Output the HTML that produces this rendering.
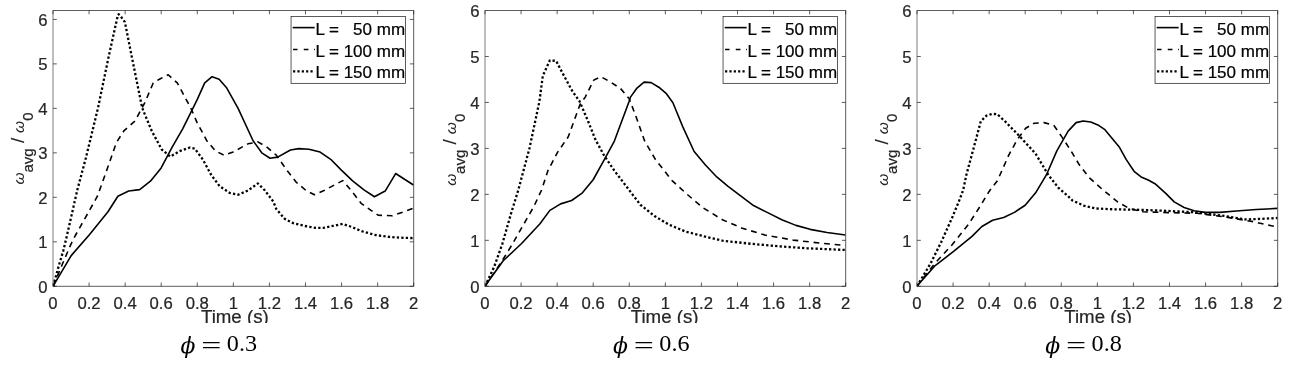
<!DOCTYPE html>
<html lang="en"><head><meta charset="utf-8"><title>Figure</title>
<style>
html,body{margin:0;padding:0;background:#fff;}
svg{display:block;}
.tk{font-family:"Liberation Sans",Arial,Helvetica,sans-serif;font-size:16.7px;fill:#262626;stroke:#262626;stroke-width:0.22;}
.lb{font-family:"Liberation Sans",Arial,Helvetica,sans-serif;font-size:18.7px;fill:#262626;stroke:#262626;stroke-width:0.22;}
.lg{font-family:"Liberation Sans",Arial,Helvetica,sans-serif;font-size:17px;fill:#000;stroke:#000;stroke-width:0.22;white-space:pre;}
.cap{font-family:"Liberation Serif","DejaVu Serif",serif;font-size:20px;fill:#000;}
.ax{stroke:#262626;stroke-width:0.75;fill:none;}
.c{fill:none;stroke:#000;stroke-linejoin:round;}
</style></head><body>
<svg width="1294" height="366" viewBox="0 0 1294 366">
<rect width="1294" height="366" fill="#fff"/>
<defs><clipPath id="xl"><rect x="0" y="0" width="1294" height="322.9"/></clipPath>
<clipPath id="cp0"><rect x="53.0" y="10.5" width="360.7" height="275.8"/></clipPath>
<clipPath id="cp1"><rect x="485.0" y="10.5" width="360.7" height="275.8"/></clipPath>
<clipPath id="cp2"><rect x="917.0" y="10.5" width="360.7" height="275.8"/></clipPath>
</defs>
<g>
<g clip-path="url(#cp0)">
<path class="c" stroke-width="1.6" d="M53.11,286.19 L71.21,255.64 L89.60,234.43 L107.98,211.80 L117.88,196.24 L128.63,191.08 L139.66,189.66 L150.41,181.18 L161.16,167.88 L171.62,148.08 L182.94,128.28 L197.08,99.92 L204.72,82.95 L212.07,76.73 L219.14,79.28 L226.78,88.05 L238.09,108.41 L253.08,140.73 L262.13,153.17 L270.05,158.27 L277.69,157.13 L290.42,150.06 L298.90,148.65 L308.80,149.22 L320.12,152.04 L331.43,159.96 L341.33,170.15 L352.64,180.89 L363.96,189.94 L374.42,196.73 L385.17,191.08 L395.64,173.54 L413.46,185.00"/>
<path class="c" stroke-width="1.6" stroke-dasharray="5.8 4.8" d="M53.20,286.20 L61.80,265.50 L66.20,255.20 L70.65,244.85 L75.07,236.00 L97.40,196.20 L106.57,170.71 L116.47,142.43 L124.11,130.55 L134.85,121.21 L144.75,102.83 L153.24,82.95 L160.31,78.71 L168.23,74.75 L177.28,82.95 L190.57,107.56 L197.08,122.63 L206.98,141.01 L215.46,150.91 L223.95,155.15 L232.44,152.33 L247.99,143.84 L257.89,141.86 L266.38,146.67 L276.28,155.15 L286.18,169.30 L296.08,182.03 L305.98,190.51 L314.46,194.75 L322.95,191.08 L342.75,180.61 L351.23,190.51 L361.13,203.31 L371.03,210.38 L378.10,215.19 L392.24,215.76 L403.56,211.80 L413.46,208.12"/>
<path class="c" stroke-width="2.3" stroke-dasharray="2.3 2.2" d="M53.20,286.20 L58.85,265.50 L63.30,250.75 L66.50,237.50 L77.30,190.00 L85.90,157.80 L98.00,108.00 L108.40,57.80 L117.90,15.00 L118.60,14.20 L120.60,16.20 L124.90,22.10 L132.00,57.80 L142.10,107.60 L144.75,114.14 L151.82,131.11 L161.72,149.50 L170.21,156.57 L180.11,150.91 L190.01,147.52 L194.82,148.65 L202.74,159.40 L211.22,174.95 L219.71,186.27 L229.61,192.77 L238.09,194.75 L247.99,190.51 L257.89,183.44 L264.96,190.51 L273.45,201.82 L276.28,208.97 L284.76,218.87 L293.25,223.11 L304.56,225.94 L315.87,227.92 L322.95,227.92 L332.85,225.94 L342.75,223.96 L351.23,226.79 L361.13,231.03 L375.27,234.99 L389.41,236.97 L403.56,237.82 L413.46,238.10"/>
</g>
<path class="ax" d="M53.0,10.5H413.70V286.3H53.0"/>
<path class="ax" stroke-width="0.6" d="M53.0,10.13V286.67" style="stroke-width:0.6"/>
<path class="ax" d="M53.00,286.3v-3.8M53.00,10.5v3.8M89.07,286.3v-3.8M89.07,10.5v3.8M125.14,286.3v-3.8M125.14,10.5v3.8M161.21,286.3v-3.8M161.21,10.5v3.8M197.28,286.3v-3.8M197.28,10.5v3.8M233.35,286.3v-3.8M233.35,10.5v3.8M269.42,286.3v-3.8M269.42,10.5v3.8M305.49,286.3v-3.8M305.49,10.5v3.8M341.56,286.3v-3.8M341.56,10.5v3.8M377.63,286.3v-3.8M377.63,10.5v3.8M413.70,286.3v-3.8M413.70,10.5v3.8M53.0,286.30h3.8M413.7,286.30h-3.8M53.0,241.82h3.8M413.7,241.82h-3.8M53.0,197.33h3.8M413.7,197.33h-3.8M53.0,152.85h3.8M413.7,152.85h-3.8M53.0,108.36h3.8M413.7,108.36h-3.8M53.0,63.88h3.8M413.7,63.88h-3.8M53.0,19.40h3.8M413.7,19.40h-3.8"/>
<text class="tk" x="53.00" y="308.6" text-anchor="middle">0</text>
<text class="tk" x="89.07" y="308.6" text-anchor="middle">0.2</text>
<text class="tk" x="125.14" y="308.6" text-anchor="middle">0.4</text>
<text class="tk" x="161.21" y="308.6" text-anchor="middle">0.6</text>
<text class="tk" x="197.28" y="308.6" text-anchor="middle">0.8</text>
<text class="tk" x="233.35" y="308.6" text-anchor="middle">1</text>
<text class="tk" x="269.42" y="308.6" text-anchor="middle">1.2</text>
<text class="tk" x="305.49" y="308.6" text-anchor="middle">1.4</text>
<text class="tk" x="341.56" y="308.6" text-anchor="middle">1.6</text>
<text class="tk" x="377.63" y="308.6" text-anchor="middle">1.8</text>
<text class="tk" x="413.70" y="308.6" text-anchor="middle">2</text>
<text class="tk" x="47.60" y="292.90" text-anchor="end">0</text>
<text class="tk" x="47.60" y="248.42" text-anchor="end">1</text>
<text class="tk" x="47.60" y="203.93" text-anchor="end">2</text>
<text class="tk" x="47.60" y="159.45" text-anchor="end">3</text>
<text class="tk" x="47.60" y="114.96" text-anchor="end">4</text>
<text class="tk" x="47.60" y="70.48" text-anchor="end">5</text>
<text class="tk" x="47.60" y="26.00" text-anchor="end">6</text>
<text class="lb" x="234.85" y="322.8" text-anchor="middle" clip-path="url(#xl)">Time (s)</text>
<g transform="translate(24.20,185) rotate(-90)" class="lb"><text x="0.6" y="0" font-style="italic" style="font-size:15.5px;stroke-width:0.05">ω</text><text x="12.5" y="8.6" style="font-size:15px">avg</text><text x="42.0" y="0">/</text><text x="52.1" y="0" font-style="italic" style="font-size:15.5px;stroke-width:0.05">ω</text><text x="64.3" y="8.6" style="font-size:15px">0</text></g>
<rect x="291.05" y="16.45" width="114.4" height="66.9" fill="#fff" stroke="#262626" stroke-width="0.75"/>
<path class="c" stroke-width="1.6" d="M292.65,27.6H314.65"/>
<path class="c" stroke-width="1.6" d="M293.05,49.5h4.5m6.2,0h4.7m5.6,0h0.8"/>
<path class="c" stroke-width="2.3" stroke-dasharray="2.2 2.15" d="M293.05,71.4H314.65"/>
<text class="lg" x="315.45" y="34.60" xml:space="preserve">L =   50 mm</text>
<text class="lg" x="315.45" y="56.60" xml:space="preserve">L = 100 mm</text>
<text class="lg" x="315.45" y="77.80" xml:space="preserve">L = 150 mm</text>
<text class="cap" font-family="DejaVu Serif" font-style="italic" style="font-family:'DejaVu Serif',serif;font-size:21.9px" x="180.50" y="352.6">ϕ</text>
<text class="cap" transform="translate(201.20,354.0) scale(1.428,1)" style="font-size:25px">=</text>
<text class="cap" transform="translate(226.80,350.95) scale(1.008,1)" style="font-size:24px">0.3</text>
</g>
<g>
<g clip-path="url(#cp1)">
<path class="c" stroke-width="1.6" d="M484.83,286.19 L503.21,260.73 L521.60,243.48 L539.98,223.68 L549.88,210.38 L560.63,203.88 L571.66,200.49 L582.41,192.85 L593.16,179.76 L603.62,160.81 L614.37,141.01 L629.08,101.41 L630.49,97.10 L637.00,88.05 L644.07,82.11 L651.14,82.67 L658.78,87.20 L666.42,93.70 L672.92,102.75 L682.82,126.87 L694.13,151.48 L705.45,165.05 L716.76,176.93 L728.08,186.27 L753.53,205.58 L767.67,212.65 L781.82,219.72 L795.96,225.38 L810.10,229.34 L827.07,232.45 L845.46,234.99"/>
<path class="c" stroke-width="1.6" stroke-dasharray="5.8 4.8" d="M485.10,286.20 L501.10,262.40 L512.10,244.60 L523.00,225.50 L533.90,206.40 L541.60,190.00 L547.90,170.71 L557.52,152.33 L568.27,136.77 L580.15,104.24 L585.24,97.10 L593.72,80.13 L600.80,76.73 L610.69,82.11 L620.59,88.61 L629.08,98.51 L636.15,116.97 L644.64,141.01 L655.38,159.40 L672.07,180.61 L687.06,194.26 L702.62,207.56 L722.42,219.72 L742.22,228.20 L764.85,234.99 L793.13,240.08 L821.41,243.20 L845.46,245.46"/>
<path class="c" stroke-width="2.3" stroke-dasharray="2.3 2.2" d="M485.10,286.20 L494.30,266.50 L502.50,243.30 L510.70,214.60 L518.30,190.00 L529.52,148.08 L539.42,101.41 L542.81,75.88 L549.88,60.33 L556.11,60.89 L564.03,75.88 L572.51,91.44 L579.58,101.34 L588.07,121.21 L595.42,139.60 L603.91,155.15 L614.37,170.71 L626.25,186.27 L640.39,204.73 L654.54,216.04 L668.68,224.53 L685.65,231.60 L705.45,236.69 L722.42,240.65 L750.70,243.76 L778.99,246.31 L807.27,248.29 L845.46,249.98"/>
</g>
<path class="ax" d="M485.0,10.5H845.70V286.3H485.0"/>
<path class="ax" stroke-width="0.6" d="M485.0,10.13V286.67" style="stroke-width:0.6"/>
<path class="ax" d="M485.00,286.3v-3.8M485.00,10.5v3.8M521.07,286.3v-3.8M521.07,10.5v3.8M557.14,286.3v-3.8M557.14,10.5v3.8M593.21,286.3v-3.8M593.21,10.5v3.8M629.28,286.3v-3.8M629.28,10.5v3.8M665.35,286.3v-3.8M665.35,10.5v3.8M701.42,286.3v-3.8M701.42,10.5v3.8M737.49,286.3v-3.8M737.49,10.5v3.8M773.56,286.3v-3.8M773.56,10.5v3.8M809.63,286.3v-3.8M809.63,10.5v3.8M845.70,286.3v-3.8M845.70,10.5v3.8M485.0,286.30h3.8M845.7,286.30h-3.8M485.0,240.33h3.8M845.7,240.33h-3.8M485.0,194.37h3.8M845.7,194.37h-3.8M485.0,148.40h3.8M845.7,148.40h-3.8M485.0,102.43h3.8M845.7,102.43h-3.8M485.0,56.47h3.8M845.7,56.47h-3.8"/>
<text class="tk" x="485.00" y="308.6" text-anchor="middle">0</text>
<text class="tk" x="521.07" y="308.6" text-anchor="middle">0.2</text>
<text class="tk" x="557.14" y="308.6" text-anchor="middle">0.4</text>
<text class="tk" x="593.21" y="308.6" text-anchor="middle">0.6</text>
<text class="tk" x="629.28" y="308.6" text-anchor="middle">0.8</text>
<text class="tk" x="665.35" y="308.6" text-anchor="middle">1</text>
<text class="tk" x="701.42" y="308.6" text-anchor="middle">1.2</text>
<text class="tk" x="737.49" y="308.6" text-anchor="middle">1.4</text>
<text class="tk" x="773.56" y="308.6" text-anchor="middle">1.6</text>
<text class="tk" x="809.63" y="308.6" text-anchor="middle">1.8</text>
<text class="tk" x="845.70" y="308.6" text-anchor="middle">2</text>
<text class="tk" x="479.60" y="292.90" text-anchor="end">0</text>
<text class="tk" x="479.60" y="246.93" text-anchor="end">1</text>
<text class="tk" x="479.60" y="200.97" text-anchor="end">2</text>
<text class="tk" x="479.60" y="155.00" text-anchor="end">3</text>
<text class="tk" x="479.60" y="109.03" text-anchor="end">4</text>
<text class="tk" x="479.60" y="63.07" text-anchor="end">5</text>
<text class="tk" x="479.60" y="17.10" text-anchor="end">6</text>
<text class="lb" x="664.65" y="322.8" text-anchor="middle" clip-path="url(#xl)">Time (s)</text>
<g transform="translate(456.20,186.4) rotate(-90)" class="lb"><text x="0.6" y="0" font-style="italic" style="font-size:15.5px;stroke-width:0.05">ω</text><text x="12.5" y="8.6" style="font-size:15px">avg</text><text x="42.0" y="0">/</text><text x="52.1" y="0" font-style="italic" style="font-size:15.5px;stroke-width:0.05">ω</text><text x="64.3" y="8.6" style="font-size:15px">0</text></g>
<rect x="723.05" y="16.45" width="114.4" height="66.9" fill="#fff" stroke="#262626" stroke-width="0.75"/>
<path class="c" stroke-width="1.6" d="M724.65,27.6H746.65"/>
<path class="c" stroke-width="1.6" d="M725.05,49.5h4.5m6.2,0h4.7m5.6,0h0.8"/>
<path class="c" stroke-width="2.3" stroke-dasharray="2.2 2.15" d="M725.05,71.4H746.65"/>
<text class="lg" x="747.45" y="34.60" xml:space="preserve">L =   50 mm</text>
<text class="lg" x="747.45" y="56.60" xml:space="preserve">L = 100 mm</text>
<text class="lg" x="747.45" y="77.80" xml:space="preserve">L = 150 mm</text>
<text class="cap" font-family="DejaVu Serif" font-style="italic" style="font-family:'DejaVu Serif',serif;font-size:21.9px" x="613.00" y="352.6">ϕ</text>
<text class="cap" transform="translate(633.70,354.0) scale(1.428,1)" style="font-size:25px">=</text>
<text class="cap" transform="translate(659.30,350.95) scale(1.008,1)" style="font-size:24px">0.6</text>
</g>
<g>
<g clip-path="url(#cp2)">
<path class="c" stroke-width="1.6" d="M916.83,286.19 L935.21,265.54 L953.60,251.40 L971.98,236.41 L981.88,226.51 L992.63,220.28 L1003.66,217.46 L1014.41,212.36 L1025.16,205.29 L1035.62,192.85 L1046.37,174.95 L1056.84,150.91 L1068.15,131.11 L1076.07,122.63 L1083.14,120.93 L1090.78,122.06 L1097.85,124.89 L1104.92,129.70 L1111.99,138.18 L1119.06,146.67 L1126.13,159.40 L1134.05,171.28 L1141.12,176.93 L1148.20,180.05 L1154.98,183.72 L1165.73,193.34 L1174.22,201.90 L1184.12,207.56 L1194.02,210.67 L1205.33,212.36 L1219.47,212.36 L1236.44,210.95 L1256.24,209.54 L1277.46,208.41"/>
<path class="c" stroke-width="1.6" stroke-dasharray="5.8 4.8" d="M917.00,286.20 L934.50,263.80 L952.30,244.60 L968.60,224.20 L980.90,205.00 L989.10,191.40 L997.44,180.61 L1008.75,155.15 L1017.24,139.60 L1025.72,128.28 L1034.21,123.19 L1044.11,122.63 L1053.73,125.17 L1062.21,137.34 L1070.98,150.91 L1079.46,165.05 L1089.36,177.78 L1102.09,189.10 L1117.65,201.90 L1128.96,208.41 L1143.10,211.80 L1168.56,212.65 L1196.85,213.21 L1225.13,216.89 L1253.41,221.70 L1274.63,226.51"/>
<path class="c" stroke-width="2.3" stroke-dasharray="2.3 2.2" d="M917.00,286.20 L930.40,263.80 L941.30,241.90 L952.30,217.30 L959.10,200.90 L963.20,190.00 L966.33,174.95 L974.80,143.80 L980.80,121.30 L986.50,115.60 L992.20,113.90 L997.20,114.20 L1005.00,121.30 L1020.07,136.77 L1035.62,153.74 L1048.35,174.95 L1058.25,187.68 L1068.15,196.17 L1072.39,200.49 L1083.71,205.58 L1095.02,208.41 L1111.99,209.25 L1140.28,209.82 L1168.56,210.95 L1196.85,212.36 L1225.13,216.04 L1244.93,219.44 L1261.90,218.87 L1277.46,218.02"/>
</g>
<path class="ax" d="M917.0,10.5H1277.70V286.3H917.0"/>
<path class="ax" stroke-width="0.6" d="M917.0,10.13V286.67" style="stroke-width:0.6"/>
<path class="ax" d="M917.00,286.3v-3.8M917.00,10.5v3.8M953.07,286.3v-3.8M953.07,10.5v3.8M989.14,286.3v-3.8M989.14,10.5v3.8M1025.21,286.3v-3.8M1025.21,10.5v3.8M1061.28,286.3v-3.8M1061.28,10.5v3.8M1097.35,286.3v-3.8M1097.35,10.5v3.8M1133.42,286.3v-3.8M1133.42,10.5v3.8M1169.49,286.3v-3.8M1169.49,10.5v3.8M1205.56,286.3v-3.8M1205.56,10.5v3.8M1241.63,286.3v-3.8M1241.63,10.5v3.8M1277.70,286.3v-3.8M1277.70,10.5v3.8M917.0,286.30h3.8M1277.7,286.30h-3.8M917.0,240.33h3.8M1277.7,240.33h-3.8M917.0,194.37h3.8M1277.7,194.37h-3.8M917.0,148.40h3.8M1277.7,148.40h-3.8M917.0,102.43h3.8M1277.7,102.43h-3.8M917.0,56.47h3.8M1277.7,56.47h-3.8"/>
<text class="tk" x="917.00" y="308.6" text-anchor="middle">0</text>
<text class="tk" x="953.07" y="308.6" text-anchor="middle">0.2</text>
<text class="tk" x="989.14" y="308.6" text-anchor="middle">0.4</text>
<text class="tk" x="1025.21" y="308.6" text-anchor="middle">0.6</text>
<text class="tk" x="1061.28" y="308.6" text-anchor="middle">0.8</text>
<text class="tk" x="1097.35" y="308.6" text-anchor="middle">1</text>
<text class="tk" x="1133.42" y="308.6" text-anchor="middle">1.2</text>
<text class="tk" x="1169.49" y="308.6" text-anchor="middle">1.4</text>
<text class="tk" x="1205.56" y="308.6" text-anchor="middle">1.6</text>
<text class="tk" x="1241.63" y="308.6" text-anchor="middle">1.8</text>
<text class="tk" x="1277.70" y="308.6" text-anchor="middle">2</text>
<text class="tk" x="911.60" y="292.90" text-anchor="end">0</text>
<text class="tk" x="911.60" y="246.93" text-anchor="end">1</text>
<text class="tk" x="911.60" y="200.97" text-anchor="end">2</text>
<text class="tk" x="911.60" y="155.00" text-anchor="end">3</text>
<text class="tk" x="911.60" y="109.03" text-anchor="end">4</text>
<text class="tk" x="911.60" y="63.07" text-anchor="end">5</text>
<text class="tk" x="911.60" y="17.10" text-anchor="end">6</text>
<text class="lb" x="1098.15" y="322.8" text-anchor="middle" clip-path="url(#xl)">Time (s)</text>
<g transform="translate(888.20,186.4) rotate(-90)" class="lb"><text x="0.6" y="0" font-style="italic" style="font-size:15.5px;stroke-width:0.05">ω</text><text x="12.5" y="8.6" style="font-size:15px">avg</text><text x="42.0" y="0">/</text><text x="52.1" y="0" font-style="italic" style="font-size:15.5px;stroke-width:0.05">ω</text><text x="64.3" y="8.6" style="font-size:15px">0</text></g>
<rect x="1155.05" y="16.45" width="114.4" height="66.9" fill="#fff" stroke="#262626" stroke-width="0.75"/>
<path class="c" stroke-width="1.6" d="M1156.65,27.6H1178.65"/>
<path class="c" stroke-width="1.6" d="M1157.05,49.5h4.5m6.2,0h4.7m5.6,0h0.8"/>
<path class="c" stroke-width="2.3" stroke-dasharray="2.2 2.15" d="M1157.05,71.4H1178.65"/>
<text class="lg" x="1179.45" y="34.60" xml:space="preserve">L =   50 mm</text>
<text class="lg" x="1179.45" y="56.60" xml:space="preserve">L = 100 mm</text>
<text class="lg" x="1179.45" y="77.80" xml:space="preserve">L = 150 mm</text>
<text class="cap" font-family="DejaVu Serif" font-style="italic" style="font-family:'DejaVu Serif',serif;font-size:21.9px" x="1045.30" y="352.6">ϕ</text>
<text class="cap" transform="translate(1066.00,354.0) scale(1.428,1)" style="font-size:25px">=</text>
<text class="cap" transform="translate(1091.60,350.95) scale(1.008,1)" style="font-size:24px">0.8</text>
</g>
</svg></body></html>
